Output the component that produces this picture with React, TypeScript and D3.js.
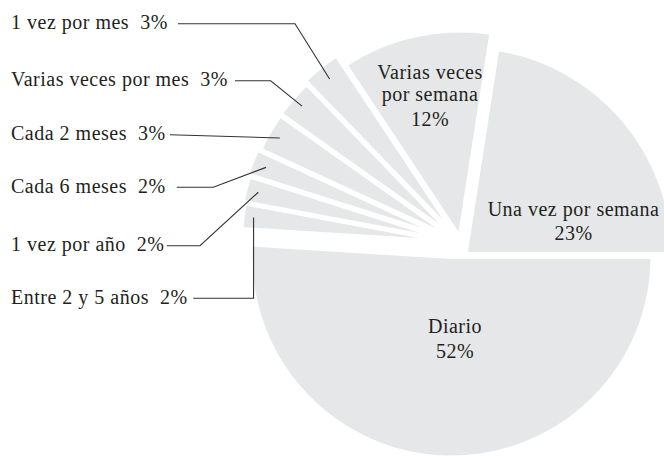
import React from "react";
import * as d3 from "d3";

// ---- data ----
const categories = [
  "Diario",
  "Entre 2 y 5 años",
  "1 vez por año",
  "Cada 6 meses",
  "Cada 2 meses",
  "Varias veces por mes",
  "1 vez por mes",
  "Varias veces por semana",
  "Una vez por semana",
];
const percents = [52, 2, 2, 2, 3, 3, 3, 12, 23];

// ---- layout (styles / positions, separate from data) ----
const W = 664;
const H = 456;
const GAP = 5;
const FILL = "#e6e7e8";
const INK = "#231f20";
const FONT = "Liberation Serif, DejaVu Serif, serif";
// apex of each exploded slice and its visible radius
const sliceApexX = [451.5, 460, 460, 460, 460, 460, 460, 460, 465];
const sliceApexY = [256.5, 243, 243, 242.5, 242, 241.5, 241, 238.5, 254.5];
const sliceRadius = [199, 217, 219, 221, 218, 218, 221, 206, 206];

// outside labels (index into categories)
const outsideIdx = [6, 5, 4, 3, 2, 1];
const outsideBaseline = [29, 86, 140, 192.6, 251, 303.6];
const outsideLineStart = [178, 235, 170, 176.7, 166.7, 193.3];
const outsideElbow: (number | null)[] = [295, 270.7, null, 213.3, 200, -1];
const anchorRadius = 208;

// inside labels
const insideIdx = [7, 8, 0];
const insideLines = [
  ["Varias veces", "por semana"],
  ["Una vez por semana"],
  ["Diario"],
];
const insideX = [430, 573.5, 455];
const insideBaselines = [
  [79, 100.5, 125.5],
  [215.5, 239.5],
  [333, 358],
];

export default function App() {
  const pie = d3
    .pie<number>()
    .sort(null)
    .value((d) => d)
    .startAngle(Math.PI / 2)
    .endAngle(Math.PI / 2 + 2 * Math.PI);
  const arcs = pie(percents);

  const pct = (i: number) => `${percents[i]}%`;

  const anchor = (i: number) => {
    const a = (arcs[i].startAngle + arcs[i].endAngle) / 2;
    return [
      sliceApexX[i] + anchorRadius * Math.sin(a),
      sliceApexY[i] - anchorRadius * Math.cos(a),
    ];
  };

  return (
    <svg
      width={W}
      height={H}
      viewBox={`0 0 ${W} ${H}`}
      style={{ position: "absolute", left: 0, top: 0, display: "block", background: "#fff" }}
    >
      <rect x={0} y={0} width={W} height={H} fill="#fff" />
      <g>
        {arcs.map((a, i) => {
          const gen = d3
            .arc<d3.PieArcDatum<number>>()
            .innerRadius(0)
            .outerRadius(sliceRadius[i] + GAP / 2);
          return (
            <path
              key={categories[i]}
              d={gen(a) || ""}
              transform={`translate(${sliceApexX[i]},${sliceApexY[i]})`}
              fill={FILL}
              stroke="#fff"
              strokeWidth={GAP}
            />
          );
        })}
      </g>
      <g style={{ fontFamily: FONT }} fontSize={20} fill={INK} letterSpacing={0.5}>
        {outsideIdx.map((ci, k) => {
          const y = outsideBaseline[k];
          const ly = y - 5.3;
          const [ax, ay] = anchor(ci);
          const el = outsideElbow[k];
          let pts: number[][];
          if (el === null) pts = [[outsideLineStart[k], ly], [ax, ay]];
          else if (el < 0) pts = [[outsideLineStart[k], ly], [ax, ly], [ax, ay]];
          else pts = [[outsideLineStart[k], ly], [el, ly], [ax, ay]];
          const line = d3.line()(pts as [number, number][]) || "";
          return (
            <g key={categories[ci]}>
              <text x={11} y={y}>
                {categories[ci]}
                {"\u00a0\u00a0"}
                {pct(ci)}
              </text>
              <path d={line} fill="none" stroke="#333" strokeWidth={1.1} />
            </g>
          );
        })}
        {insideIdx.map((ci, k) => {
          const lines = [...insideLines[k], pct(ci)];
          return (
            <text key={categories[ci]} textAnchor="middle">
              {lines.map((t, j) => (
                <tspan key={j} x={insideX[k]} y={insideBaselines[k][j]}>
                  {t}
                </tspan>
              ))}
            </text>
          );
        })}
      </g>
    </svg>
  );
}
